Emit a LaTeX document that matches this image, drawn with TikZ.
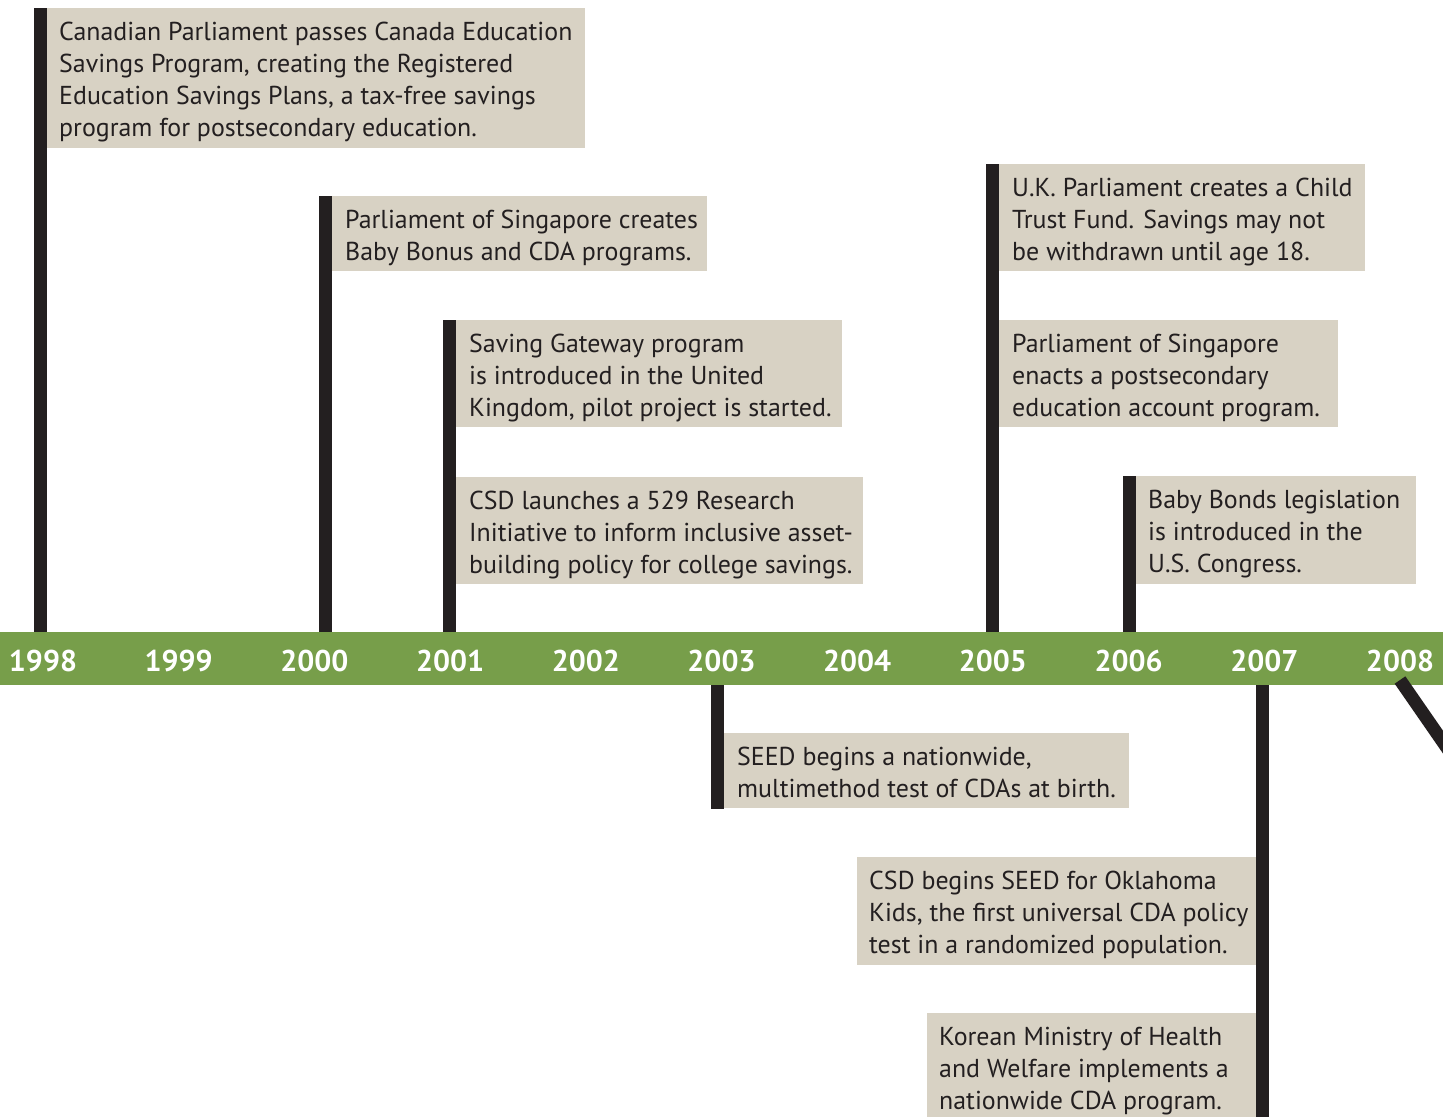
\documentclass[tikz,border=0pt]{standalone}
\usepackage{fontspec}
\setmainfont{PT Sans}
\definecolor{bandgreen}{HTML}{779E4A}
\definecolor{ink}{HTML}{231F20}
\definecolor{boxfill}{HTML}{D8D2C4}
\tikzset{
  barfill/.style={fill=ink},
  evbox/.style={fill=boxfill},
  evtext/.style={inner sep=0pt, anchor=north west, align=left, text=ink,
    font=\fontsize{25.9}{32}\selectfont},
  yearlab/.style={inner sep=0pt, anchor=base, text=white,
    font=\fontsize{30}{36}\selectfont\bfseries}
}
\newcommand{\firstline}{\rule{0pt}{24pt}}
\begin{document}
\begin{tikzpicture}[x=1pt,y=-1pt]
\useasboundingbox (0,0) rectangle (1443,1117);
\begin{scope}
\clip (0,0) rectangle (1443,1117);
% band
\fill[bandgreen] (0,632) rectangle (1443,685);
% bars above
\fill[barfill] (34,8) rectangle (47,632);
\fill[barfill] (319,196) rectangle (332,632);
\fill[barfill] (443,320) rectangle (456,632);
\fill[barfill] (986,164) rectangle (999,632);
\fill[barfill] (1123,476) rectangle (1136,632);
% bars below
\fill[barfill] (711,685) rectangle (724,809);
\fill[barfill] (1256,685) rectangle (1269,1117);
\draw[ink, line width=13pt] (1400,680) -- (1454,758);
% boxes
\fill[evbox] (47,8) rectangle (585,148);
\fill[evbox] (332,196) rectangle (707,271);
\fill[evbox] (456,320) rectangle (842,427);
\fill[evbox] (456,477) rectangle (863,584);
\fill[evbox] (999,164) rectangle (1365,271);
\fill[evbox] (999,320) rectangle (1338,427);
\fill[evbox] (1136,476) rectangle (1416,584);
\fill[evbox] (724,733) rectangle (1129,808);
\fill[evbox] (857,857) rectangle (1256,965);
\fill[evbox] (927,1013) rectangle (1256,1117);
% texts
\node[evtext] (t98) at (59,16.5) {\firstline Canadian Parliament passes Canada Education\\Savings Program, creating the Registered\\Education Savings Plans, a tax-free savings\\program for postsecondary education.};
\node[evtext] (t00) at (345,204.5) {\firstline Parliament of Singapore creates\\Baby Bonus and CDA programs.};
\node[evtext] (t01a) at (469,328.5) {\firstline Saving Gateway program\\is introduced in the United\\Kingdom, pilot project is started.};
\node[evtext] (t01b) at (469,485.5) {\firstline CSD launches a 529 Research\\Initiative to inform inclusive asset-\\building policy for college savings.};
\node[evtext] (t05a) at (1012,172.5) {\firstline U.K. Parliament creates a Child\\Trust Fund. Savings may not\\be withdrawn until age 18.};
\node[evtext] (t05b) at (1012,328.5) {\firstline Parliament of Singapore\\enacts a postsecondary\\education account program.};
\node[evtext] (t06) at (1148,484.5) {\firstline Baby Bonds legislation\\is introduced in the\\U.S. Congress.};
\node[evtext] (t03) at (737,741.5) {\firstline SEED begins a nationwide,\\multimethod test of CDAs at birth.};
\node[evtext] (t07a) at (869,865.5) {\firstline CSD begins SEED for Oklahoma\\Kids, the first universal CDA policy\\test in a randomized population.};
\node[evtext] (t07b) at (939,1021.5) {\firstline Korean Ministry of Health\\and Welfare implements a\\nationwide CDA program.};
% years
\foreach \yr [count=\i from 0] in {1998,1999,2000,2001,2002,2003,2004,2005,2006,2007,2008}
  \node[yearlab] (y\yr) at (43+135.7*\i,671) {\yr};
\end{scope}
\end{tikzpicture}
\end{document}
